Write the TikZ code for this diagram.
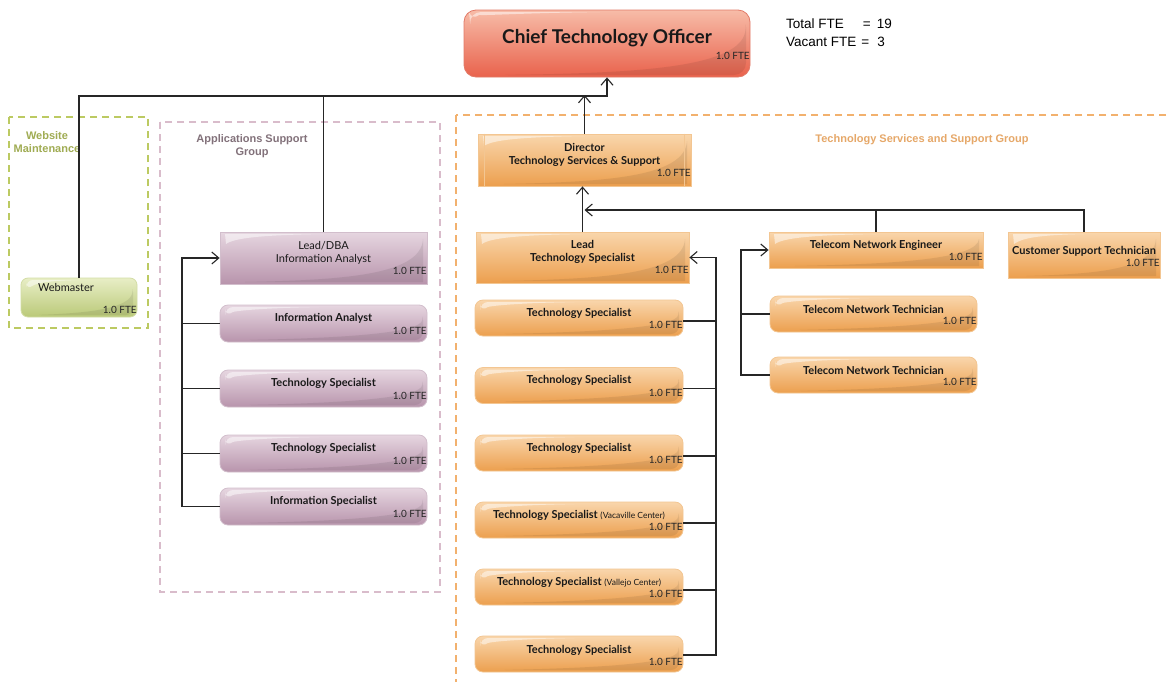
\documentclass[tikz,border=0pt]{standalone}
\usepackage{fontspec}
\setmainfont{Lato}
\newfontfamily\arialfont{Liberation Sans}
\usetikzlibrary{calc,arrows.meta}
\definecolor{ctotop}{HTML}{F7BCA8}
\definecolor{ctobot}{HTML}{E9624C}
\definecolor{ctoline}{HTML}{E27A68}
\definecolor{webtop}{HTML}{E8EEC6}
\definecolor{webbot}{HTML}{BAC978}
\definecolor{webline}{HTML}{D3DDA6}
\definecolor{apptop}{HTML}{E6D6E0}
\definecolor{appbot}{HTML}{B894AC}
\definecolor{appline}{HTML}{D2BECC}
\definecolor{tsstop}{HTML}{F9D6AC}
\definecolor{tssbot}{HTML}{EC9F4E}
\definecolor{tssline}{HTML}{F3C692}
\definecolor{webframe}{HTML}{BCCA62}
\definecolor{appframe}{HTML}{D9BCCB}
\definecolor{tssframe}{HTML}{F2B16E}

\begin{document}
\begin{tikzpicture}[x=1pt,y=-1pt,
    gloss/.style={path picture={
      \fill[white,opacity=.5] let \p1=(path picture bounding box.north west),
          \p2=(path picture bounding box.south east) in
        (\x1+5pt,\y1-2pt) -- ({\x1+0.5*(\x2-\x1)},\y1-2pt)
        .. controls ({\x1+0.2*(\x2-\x1)},\y1-3pt) and (\x1+14pt,\y1-6pt) .. (\x1+6pt,\y1-12pt) -- cycle;
      \fill[black,opacity=.08] let \p1=(path picture bounding box.north west),
          \p2=(path picture bounding box.south east) in
        (\x2-4pt,\y1-7pt) .. controls (\x2-6pt,\y2+9pt) and ({\x1+0.6*(\x2-\x1)},\y2+4pt)
        .. ({\x1+0.12*(\x2-\x1)},\y2+2pt) -- (\x2-4pt,\y2+2pt) -- cycle;}},
    box/.style={inner sep=0pt,line width=0.8pt,gloss},
    ctobox/.style={box,draw=ctoline,top color=ctotop,bottom color=ctobot,rounded corners=12pt},
    webbox/.style={box,draw=webline,top color=webtop,bottom color=webbot,rounded corners=7pt},
    appbox/.style={box,draw=appline,top color=apptop,bottom color=appbot},
    tssbox/.style={box,draw=tssline,top color=tsstop,bottom color=tssbot},
    pill/.style={rounded corners=8pt},
    rolesize/.style={minimum width=207pt,minimum height=37pt},
    role/.style={font=\bfseries\fontsize{11}{13}\selectfont,align=center,text=black!90},
    plainrole/.style={role,font=\fontsize{11}{13}\selectfont},
    fte/.style={anchor=east,inner sep=0.5pt,font=\fontsize{10}{11}\selectfont,text=black!85},
    group/.style={font=\arialfont\bfseries\fontsize{11}{13}\selectfont,align=center},
    frame/.style={dash pattern=on 7pt off 5pt,line width=1.6pt},
    link/.style={line width=1.1pt,black!85},
    arr/.style={link,-{Straight Barb[length=7pt,width=12pt]}}]

  \useasboundingbox[fill=white] (0,0) rectangle (1170,681);

  % group frames
  \draw[frame,webframe] (9,117) rectangle (148,328);
  \draw[frame,appframe] (160,122) rectangle (440,592);
  \draw[frame,tssframe] (456,115) rectangle (1200,710);
  \node (webgrp) at (47,142) [group,text=webframe!85!black] {Website\\Maintenance};
  \node (appgrp) at (252,146) [group,text=appframe!60!black] {Applications Support\\Group};
  \node (tssgrp) at (922,140) [group,text=tssframe!95!black] {Technology Services and Support Group};

  % totals
  \node (total) at (786,24) [anchor=west,inner sep=0pt,font=\arialfont\fontsize{13.5}{16}\selectfont] {Total FTE\hspace{19pt}=\hspace{6pt}19};
  \node (vacant) at (786,42) [anchor=west,inner sep=0pt,font=\arialfont\fontsize{13.5}{16}\selectfont] {Vacant FTE\hspace{5pt}=\hspace{8pt}3};

  % boxes
  \node (cto) at (607,43.5) [ctobox,minimum width=286pt,minimum height=67pt] {};
  \node (web) at (79,297.5) [webbox,minimum width=116pt,minimum height=39pt] {};

  \node (dba) at (323.5,258) [appbox,minimum width=207pt,minimum height=52pt] {};
  \node (ia) at (323.5,323.5) [appbox,pill,rolesize] {};
  \node (ats1) at (323.5,388.5) [appbox,pill,rolesize] {};
  \node (ats2) at (323.5,453.5) [appbox,pill,rolesize] {};
  \node (is) at (323.5,506.5) [appbox,pill,rolesize] {};

  \node (dir) at (584.5,160) [tssbox,minimum width=213pt,minimum height=52pt] {};
  \draw[tssline,line width=0.8pt] ([xshift=7pt]dir.north west) -- ([xshift=7pt]dir.south west)
    ([xshift=-7pt]dir.north east) -- ([xshift=-7pt]dir.south east);
  \node (lts) at (582.5,257.5) [tssbox,minimum width=213pt,minimum height=51pt] {};
  \node (tne) at (876,250) [tssbox,minimum width=214pt,minimum height=36pt] {};
  \node (cst) at (1084,255) [tssbox,minimum width=152pt,minimum height=46pt] {};
  \node (tnt1) at (873.5,314) [tssbox,pill,minimum width=207pt,minimum height=36pt] {};
  \node (tnt2) at (873.5,375) [tssbox,pill,minimum width=207pt,minimum height=36pt] {};
  \node (ts1) at (579,318) [tssbox,pill,minimum width=208pt,minimum height=36pt] {};
  \node (ts2) at (579,385.5) [tssbox,pill,minimum width=208pt,minimum height=36pt] {};
  \node (ts3) at (579,453) [tssbox,pill,minimum width=208pt,minimum height=36pt] {};
  \node (ts4) at (579,520) [tssbox,pill,minimum width=208pt,minimum height=36pt] {};
  \node (ts5) at (579,587) [tssbox,pill,minimum width=208pt,minimum height=36pt] {};
  \node (ts6) at (579,654) [tssbox,pill,minimum width=208pt,minimum height=36pt] {};

  % titles
  \node (ctot) at ([yshift=5.5pt]cto.center) [role,font=\bfseries\fontsize{19}{22}\selectfont] {Chief Technology Officer};
  \node (webt) at ([xshift=-13pt,yshift=10.5pt]web.center) [plainrole] {Webmaster};
  \node (dbat) at ([yshift=5.5pt]dba.center) [plainrole] {Lead/DBA\\Information Analyst};
  \node (iat) at ([yshift=5.5pt]ia.center) [role] {Information Analyst};
  \node (ats1t) at ([yshift=5.5pt]ats1.center) [role] {Technology Specialist};
  \node (ats2t) at ([yshift=5.5pt]ats2.center) [role] {Technology Specialist};
  \node (ist) at ([yshift=5.5pt]is.center) [role] {Information Specialist};
  \node (dirt) at ([yshift=5.5pt]dir.center) [role] {Director\\Technology Services \& Support};
  \node (ltst) at ([yshift=6pt]lts.center) [role] {Lead\\Technology Specialist};
  \node (tnet) at ([yshift=5pt]tne.center) [role] {Telecom Network Engineer};
  \node (cstt) at ([yshift=4pt]cst.center) [role] {Customer Support Technician};
  \node (tnt1t) at ([yshift=5pt]tnt1.center) [role] {Telecom Network Technician};
  \node (tnt2t) at ([yshift=5pt]tnt2.center) [role] {Telecom Network Technician};
  \node (ts1t) at ([yshift=5pt]ts1.center) [role] {Technology Specialist};
  \node (ts2t) at ([yshift=5pt]ts2.center) [role] {Technology Specialist};
  \node (ts3t) at ([yshift=5pt]ts3.center) [role] {Technology Specialist};
  \node (ts4t) at ([yshift=5pt]ts4.center) [role] {Technology Specialist {\mdseries\fontsize{8.5}{10}\selectfont(Vacaville Center)}};
  \node (ts5t) at ([yshift=5pt]ts5.center) [role] {Technology Specialist {\mdseries\fontsize{8.5}{10}\selectfont(Vallejo Center)}};
  \node (ts6t) at ([yshift=4pt]ts6.center) [role] {Technology Specialist};

  % headcount on every box
  \foreach \b/\d in {cto/21,web/7,dba/13,ia/11,ats1/11,ats2/11,is/11,dir/13,lts/13,tne/11,
      cst/15,tnt1/11,tnt2/11,ts1/11,ts2/11,ts3/11,ts4/11,ts5/11,ts6/10}
    \node (\b f) at ([yshift=\d pt]\b.south east) [fte] {1.0 FTE};

  % reporting lines
  \coordinate (topbus) at (0,96);
  \coordinate (dirbus) at (0,210);
  \coordinate (appbus) at (182,0);
  \coordinate (tsbus) at (716,0);
  \coordinate (tnbus) at (741,0);

  \draw[arr] (web.north) |- (topbus -| cto.south) -- (cto.south);
  \draw[link] (dba.north) -- (dba.north |- topbus);
  \draw[arr] (dir.north) -- ([yshift=1pt]dir.north |- topbus);

  \draw[arr] (lts.north) -- (lts.north |- dir.south);
  \draw[arr] (cst.north) |- ([xshift=2pt]dirbus -| lts.north);
  \draw[link] (tne.north) -- (tne.north |- dirbus);

  \draw[arr] (is.west) -- (is.west -| appbus) |- (dba.west);
  \foreach \b in {ia,ats1,ats2}
    \draw[link] (\b.west) -- (\b.west -| appbus);

  \draw[arr] ([yshift=-1pt]ts6.east) -- ([yshift=-1pt]ts6.east -| tsbus) |- (lts.east);
  \foreach \b in {ts1,ts2,ts3,ts4,ts5}
    \draw[link] ([yshift=-3pt]\b.east) -- ([yshift=-3pt]\b.east -| tsbus);

  \draw[arr] (tnt2.west) -- (tnt2.west -| tnbus) |- (tne.west);
  \draw[link] (tnt1.west) -- (tnt1.west -| tnbus);
\end{tikzpicture}
\end{document}
